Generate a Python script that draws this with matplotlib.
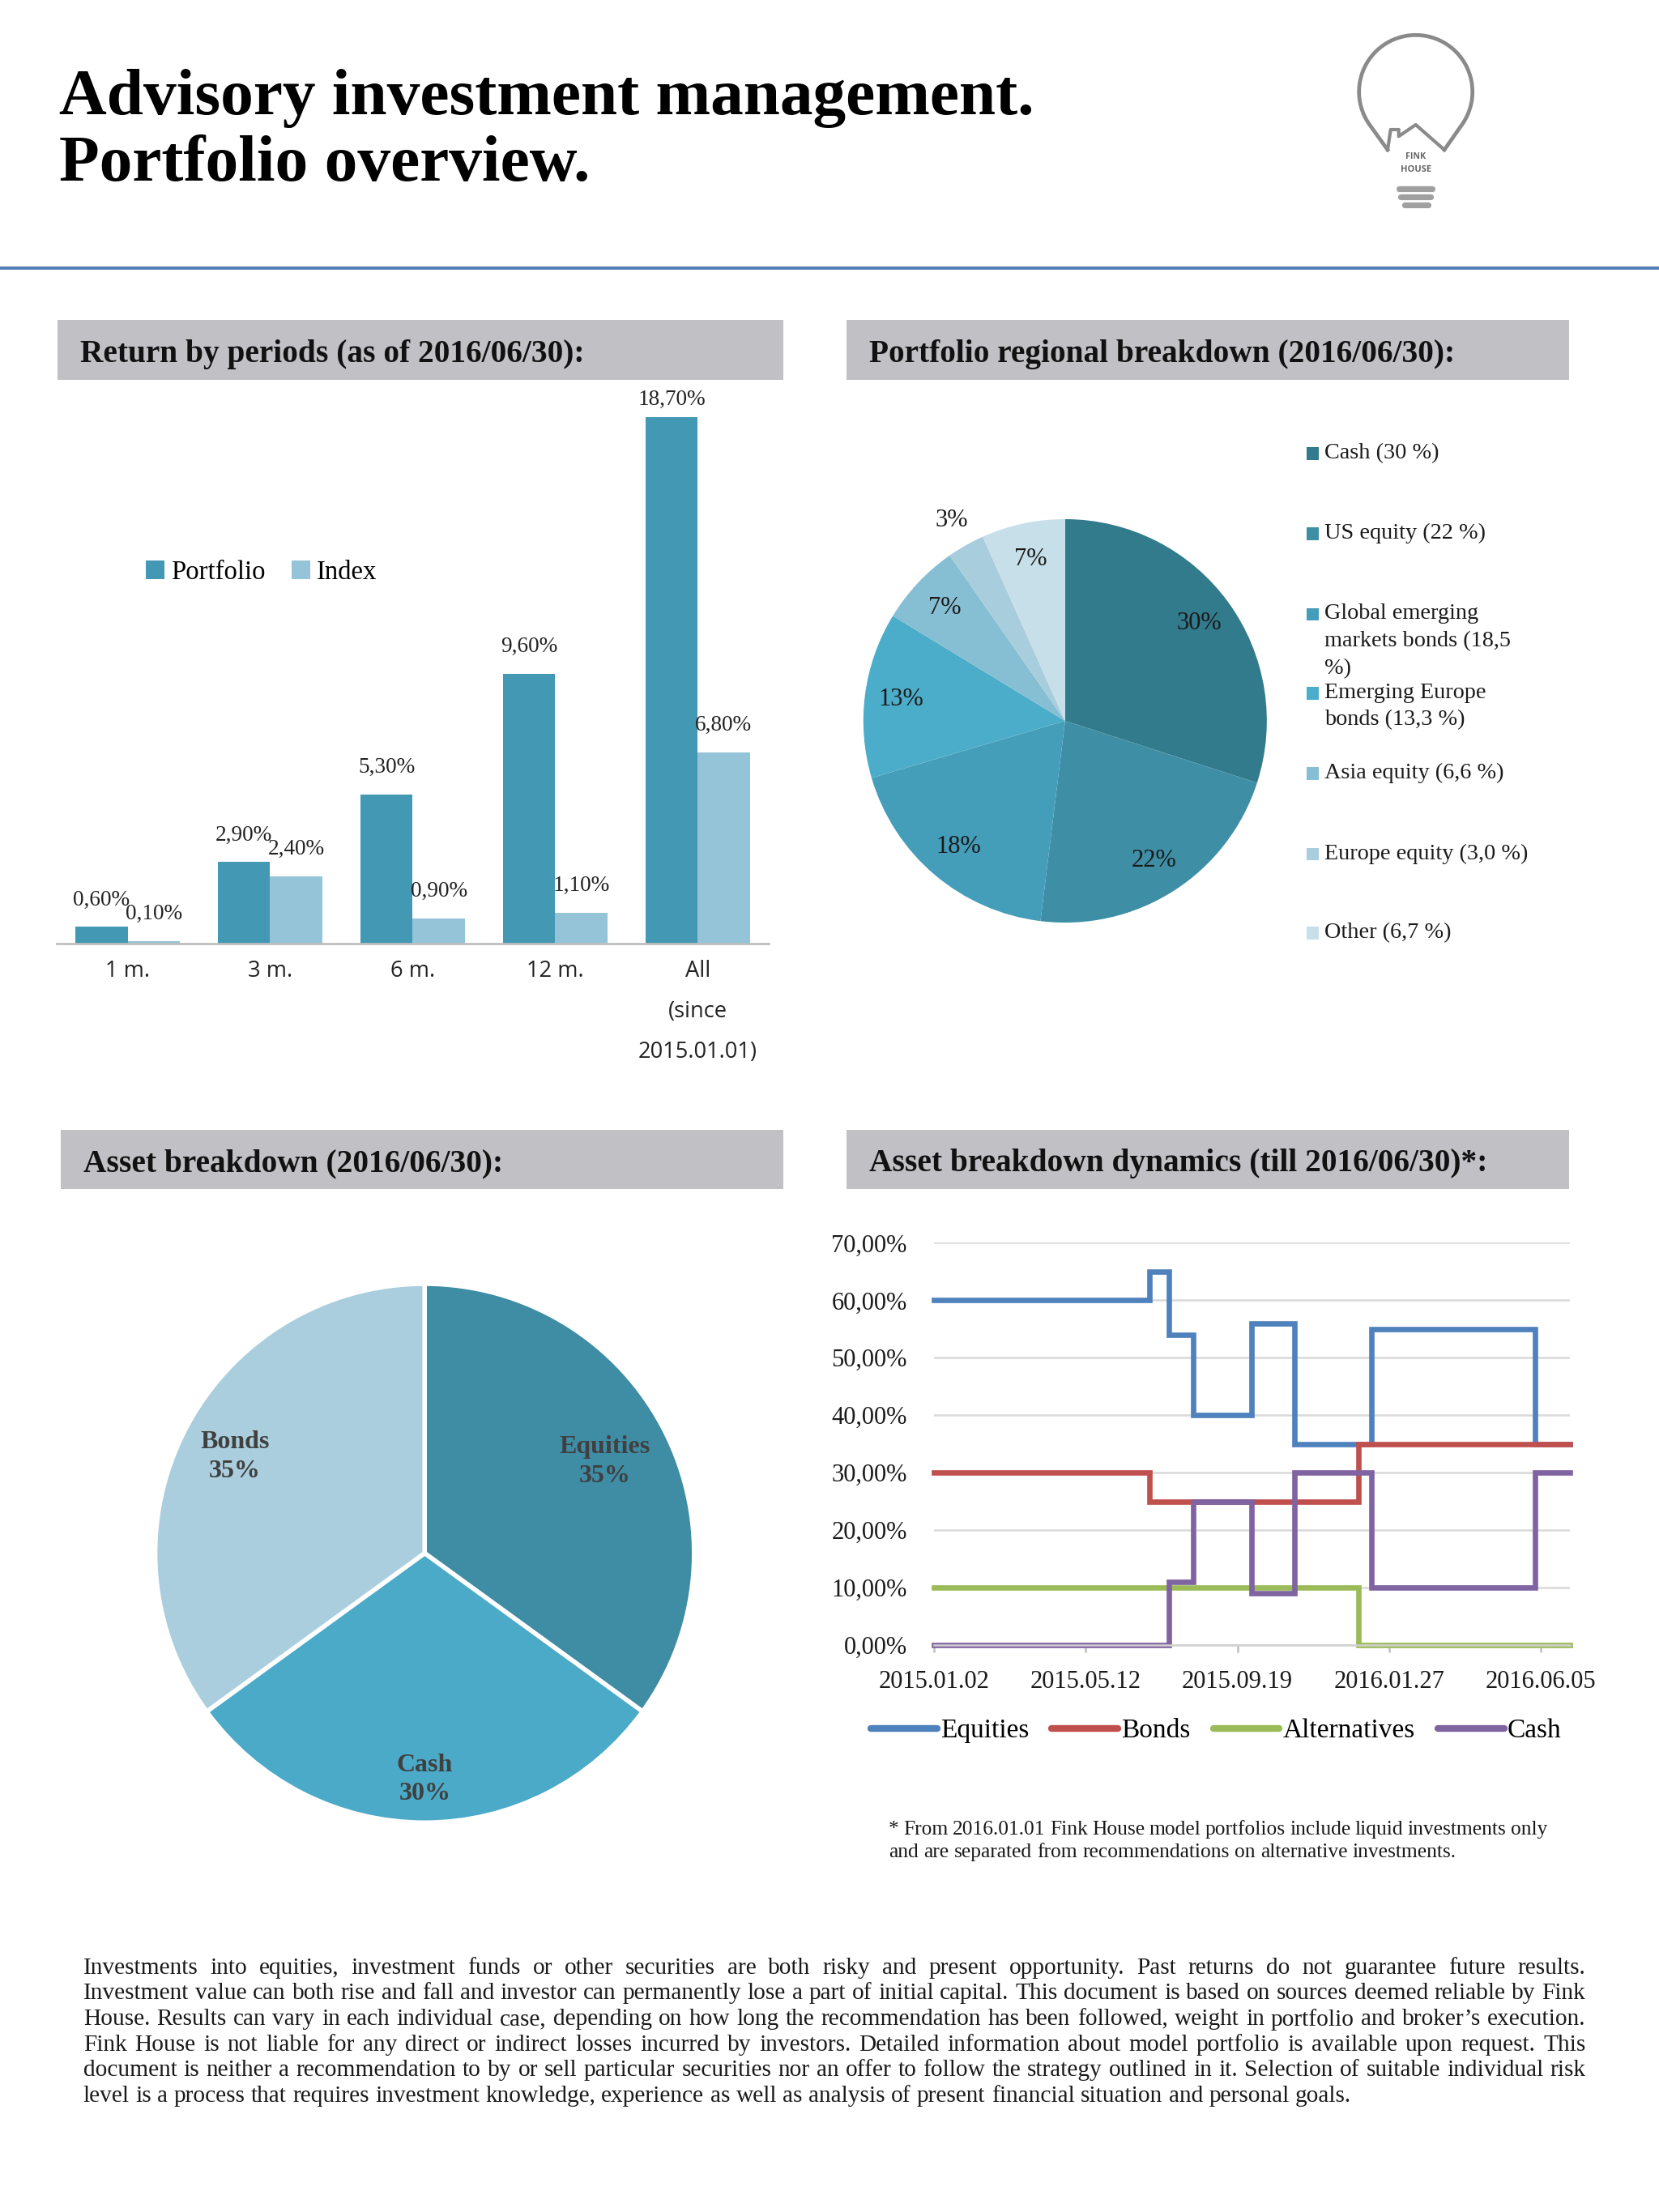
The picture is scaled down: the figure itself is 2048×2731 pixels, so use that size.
import numpy as np
import pandas as pd
import matplotlib
matplotlib.use("Agg")
import matplotlib.pyplot as plt
from matplotlib.patches import Rectangle
from matplotlib.lines import Line2D

# ------------------------------------------------------------------ data
periods = ['1 m.', '3 m.', '6 m.', '12 m.', 'All\n(since\n2015.01.01)']
portfolio_ret = [0.60, 2.90, 5.30, 9.60, 18.70]
index_ret = [0.10, 2.40, 0.90, 1.10, 6.80]

regions = ['Cash (30 %)', 'US equity (22 %)',
           'Global emerging\nmarkets bonds (18,5\n%)',
           'Emerging Europe\nbonds (13,3 %)', 'Asia equity (6,6 %)',
           'Europe equity (3,0 %)', 'Other (6,7 %)']
region_share = [30.0, 22.0, 18.5, 13.3, 6.6, 3.0, 6.7]

assets = ['Equities', 'Cash', 'Bonds']
asset_share = [35, 30, 35]

change_dates = ['2015-01-02', '2015-07-06', '2015-07-22', '2015-08-12',
                '2015-10-01', '2015-11-07', '2016-01-01', '2016-01-12',
                '2016-05-31', '2016-06-30']
equities = [60, 65, 54, 40, 56, 35, 35, 55, 35, 35]
bonds = [30, 25, 25, 25, 25, 25, 35, 35, 35, 35]
alternatives = [10, 10, 10, 10, 10, 10, 0, 0, 0, 0]
cash = [0, 0, 11, 25, 9, 30, 30, 10, 30, 30]
date_ticks = ['2015-01-02', '2015-05-12', '2015-09-19', '2016-01-27', '2016-06-05']
y_ticks = [0, 10, 20, 30, 40, 50, 60, 70]

footnote = ["* From 2016.01.01 Fink House model portfolios include liquid investments only",
            "and are separated from recommendations on alternative investments."]
disclaimer = [
    "Investments into equities, investment funds or other securities are both risky and present opportunity. Past returns do not guarantee future results.",
    "Investment value can both rise and fall and investor can permanently lose a part of initial capital. This document is based on sources deemed reliable by Fink",
    "House. Results can vary in each individual case, depending on how long the recommendation has been followed, weight in portfolio and broker\u2019s execution.",
    "Fink House is not liable for any direct or indirect losses incurred by investors. Detailed information about model portfolio is available upon request. This",
    "document is neither a recommendation to by or sell particular securities nor an offer to follow the strategy outlined in it. Selection of suitable individual risk",
    "level is a process that requires investment knowledge, experience as well as analysis of present financial situation and personal goals.",
]

# ------------------------------------------------------------------ layout helpers
SERIF = ['Liberation Serif', 'DejaVu Serif']
SANS = ['Open Sans', 'DejaVu Sans']
W, H = 1176.0, 1568.0          # reference layout units
DPI = 200
fig = plt.figure(figsize=(2048 / DPI, 2731 / DPI), dpi=DPI, facecolor='white')
FW = 2048


def fx(x):
    return x / W


def fy(y):
    return 1 - y / H


def axes_box(x0, y0, x1, y1):
    return fig.add_axes([fx(x0), fy(y1), (x1 - x0) / W, (y1 - y0) / H])


def header(x0, y0, x1, y1, text):
    fig.patches.append(Rectangle((fx(x0), fy(y1)), (x1 - x0) / W, (y1 - y0) / H,
                                 transform=fig.transFigure, facecolor='#c1c0c4',
                                 edgecolor='none', zorder=0))
    fig.text(fx(x0 + 16), fy((y0 + y1) / 2 + 3), text, family=SERIF,
             fontweight='bold', fontsize=14.2, va='center', ha='left', color='#111111')


# ------------------------------------------------------------------ title, rule, logo
fig.text(fx(42), fy(70), 'Advisory investment management.', family=SERIF,
         fontweight='bold', fontsize=29.3, va='center', ha='left', color='black')
fig.text(fx(42), fy(117), 'Portfolio overview.', family=SERIF,
         fontweight='bold', fontsize=29.3, va='center', ha='left', color='black')
fig.lines.append(Line2D([0, 1], [fy(190), fy(190)], transform=fig.transFigure,
                        color='#4f7fb6', lw=1.4))

# logo (in full-resolution pixel coordinates)
def P(xf, yf):
    return xf / 2048.0, 1 - yf / 2731.0

logo_col = '#8a8a8a'
cxp, cyp, rp = 1747.7, 113.3, 70.0
ang = np.radians(np.linspace(-35, 215, 120))
bx = list(cxp + rp * np.cos(ang))
by = list(cyp - rp * np.sin(ang))
bx = [1783.0] + bx + [1713.0]
by = [185.0] + by + [185.0]
pts = [P(a, b) for a, b in zip(bx, by)]
fig.lines.append(Line2D([p[0] for p in pts], [p[1] for p in pts],
                        transform=fig.transFigure, color=logo_col, lw=1.7))
house = [(1713, 185), (1716.7, 160), (1726.7, 160), (1726.7, 168.3),
         (1747.7, 154), (1783, 185)]
hp = [P(a, b) for a, b in house]
fig.lines.append(Line2D([p[0] for p in hp], [p[1] for p in hp],
                        transform=fig.transFigure, color=logo_col, lw=1.5))
fig.text(*P(1748, 194), 'FINK', family=SANS, fontsize=3.8, fontweight='bold',
         ha='center', va='center', color='#666666')
fig.text(*P(1748, 210), 'HOUSE', family=SANS, fontsize=4.0, fontweight='bold',
         ha='center', va='center', color='#666666')
for (xa, xb, yy) in [(1727, 1768, 233), (1729, 1766, 243), (1734, 1763, 253)]:
    a = P(xa, yy)
    b = P(xb, yy)
    fig.lines.append(Line2D([a[0], b[0]], [a[1], b[1]], transform=fig.transFigure,
                            color='#a0a0a0', lw=2.6, solid_capstyle='round'))

# ------------------------------------------------------------------ section headers
header(41, 227, 555, 269, 'Return by periods (as of 2016/06/30):')
header(600, 227, 1112, 269, 'Portfolio regional breakdown (2016/06/30):')
header(43, 801, 555, 843, 'Asset breakdown (2016/06/30):')
header(600, 801, 1112, 843, 'Asset breakdown dynamics (till 2016/06/30)*:')

# ------------------------------------------------------------------ bar chart
axb = axes_box(40, 270, 545, 669)
xpos = np.arange(len(periods))
bw = 0.366
c_port, c_idx = '#4398b3', '#95c4d8'
b1 = axb.bar(xpos - bw / 2, portfolio_ret, bw, color=c_port, label='Portfolio')
b2 = axb.bar(xpos + bw / 2, index_ret, bw, color=c_idx, label='Index')
for bars, vals in ((b1, portfolio_ret), (b2, index_ret)):
    for r, v in zip(bars, vals):
        off = 12 if v < 18 else 8
        axb.annotate(('%.2f%%' % v).replace('.', ','),
                     (r.get_x() + r.get_width() / 2, r.get_height()),
                     xytext=(0, off), textcoords='offset points', ha='center',
                     va='center', family=SERIF, fontsize=9.8, color='#222222',
                     annotation_clip=False)
axb.set_xlim(-0.5, 4.5)
axb.set_ylim(0, 20)
axb.set_xticks(xpos)
axb.set_xticklabels(periods, family=SANS, fontsize=9.8, color='#222222',
                    linespacing=2.05, va='top')
axb.tick_params(axis='x', length=0, pad=7)
axb.set_yticks([])
for s in ('top', 'right', 'left'):
    axb.spines[s].set_visible(False)
axb.spines['bottom'].set_color('#bfbfbf')
axb.spines['bottom'].set_linewidth(1.0)
axb.legend(loc='center left', bbox_to_anchor=(0.125, 0.66), frameon=False,
           ncol=2, prop={'family': SERIF, 'size': 11.8}, handlelength=0.7,
           handleheight=0.7, handletextpad=0.25, columnspacing=1.0,
           borderpad=0, borderaxespad=0)

# ------------------------------------------------------------------ regional pie
region_cols = ['#327b8c', '#3e8fa6', '#449db9', '#4badc9', '#86bfd3',
               '#a8cddc', '#c6dfe8']
axp = axes_box(612, 368, 898, 654)
wedges, _t, autot = axp.pie(region_share, colors=region_cols, startangle=90,
                            counterclock=False, autopct='%.0f%%',
                            pctdistance=0.82, radius=1,
                            textprops={'family': SERIF, 'fontsize': 11,
                                       'color': '#1a1a1a'})
outside = {5: 1.14}
for i, (w, t) in enumerate(zip(wedges, autot)):
    if i in outside:
        mid = np.radians((w.theta1 + w.theta2) / 2)
        t.set_position((outside[i] * np.cos(mid), outside[i] * np.sin(mid)))
axp.set_xlim(-1, 1)
axp.set_ylim(-1, 1)
axp.set_aspect('equal')

leg_y = [321, 378, 435, 491, 548, 605, 661]
for lab, col, yy in zip(regions, region_cols, leg_y):
    fig.patches.append(Rectangle((fx(926), fy(yy + 5)), 9 / W, 9 / H,
                                 transform=fig.transFigure, facecolor=col,
                                 edgecolor='none'))
    fig.text(fx(939), fy(yy - 7), lab, family=SERIF, fontsize=10.2, ha='left',
             va='top', color='#1a1a1a', linespacing=1.45)

# ------------------------------------------------------------------ asset pie
asset_cols = ['#3f8ca5', '#4aaac8', '#aacede']
axa = axes_box(110, 910, 492, 1292)
aw, _ = axa.pie(asset_share, colors=asset_cols, startangle=90, counterclock=False,
                radius=1, wedgeprops={'edgecolor': 'white', 'linewidth': 2.0})
asset_lr = [0.75, 0.84, 0.79]
for w, lab, v, r in zip(aw, assets, asset_share, asset_lr):
    mid = np.radians((w.theta1 + w.theta2) / 2)
    axa.text(r * np.cos(mid), r * np.sin(mid), '%s\n%d%%' % (lab, v),
             family=SERIF, fontweight='bold', fontsize=11.5, color='#404040',
             ha='center', va='center', linespacing=1.3)
axa.set_xlim(-1, 1)
axa.set_ylim(-1, 1)
axa.set_aspect('equal')

# ------------------------------------------------------------------ line chart
dts = pd.to_datetime(change_dates)
axl = axes_box(662, 881, 1113, 1166)
series = [('Equities', equities, '#4f81bd'), ('Bonds', bonds, '#c0504d'),
          ('Alternatives', alternatives, '#9bbb59'), ('Cash', cash, '#8064a2')]
for name, vals, col in series:
    axl.plot(dts, vals, drawstyle='steps-post', color=col, lw=2.4, label=name,
             solid_joinstyle='miter', clip_on=False)
axl.set_xlim(dts[0], dts[-1])
axl.set_ylim(0, 70)
axl.set_yticks(y_ticks)
axl.set_yticklabels([('%.2f%%' % v).replace('.', ',') for v in y_ticks],
                    family=SERIF, fontsize=11, color='#1a1a1a')
tk = pd.to_datetime(date_ticks)
axl.set_xticks(tk)
axl.set_xticklabels([d.strftime('%Y.%m.%d') for d in tk], family=SERIF,
                    fontsize=11, color='#1a1a1a')
axl.tick_params(axis='y', length=0, pad=12)
axl.tick_params(axis='x', length=3.2, width=0.9, color='#bfbfbf', pad=8)
axl.grid(axis='y', color='#d9d9d9', lw=0.9)
axl.set_axisbelow(True)
for s in ('top', 'right', 'left'):
    axl.spines[s].set_visible(False)
axl.spines['bottom'].set_color('#d0d0d0')
axl.spines['bottom'].set_linewidth(0.9)
handles = [Line2D([0], [0], color=c, lw=3.0, solid_capstyle='round') for _, _, c in series]
fig.legend(handles, [s[0] for s in series], loc='center', ncol=4,
           bbox_to_anchor=(fx(862), fy(1227)), frameon=False,
           prop={'family': SERIF, 'size': 12}, handlelength=2.45,
           handletextpad=0.12, columnspacing=0.85)

# ------------------------------------------------------------------ justified text
renderer = fig.canvas.get_renderer()


def justified(lines, x0, x1, y0, dy, size, justify_last=False):
    probe1 = fig.text(0, 0, 'a a', family=SERIF, fontsize=size)
    probe2 = fig.text(0, 0, 'aa', family=SERIF, fontsize=size)
    sp = (probe1.get_window_extent(renderer).width -
          probe2.get_window_extent(renderer).width)
    probe1.remove()
    probe2.remove()
    target = (x1 - x0) / W * FW
    for i, line in enumerate(lines):
        words = line.split(' ')
        ts = [fig.text(0, fy(y0 + i * dy), w, family=SERIF, fontsize=size,
                       ha='left', va='center', color='#1a1a1a') for w in words]
        ws = [t.get_window_extent(renderer).width for t in ts]
        last = (i == len(lines) - 1) and not justify_last
        if last or len(words) < 2:
            gap = sp
        else:
            gap = (target - sum(ws)) / (len(words) - 1)
        xp = x0 / W * FW
        for t, wdt in zip(ts, ws):
            t.set_x(xp / FW)
            xp += wdt + gap


justified(footnote, 630, 1097, 1297, 16.3, 9.2)
justified(disclaimer, 59, 1124, 1395, 18.2, 10.6)

fig.savefig('out.png', dpi=DPI, facecolor='white')
